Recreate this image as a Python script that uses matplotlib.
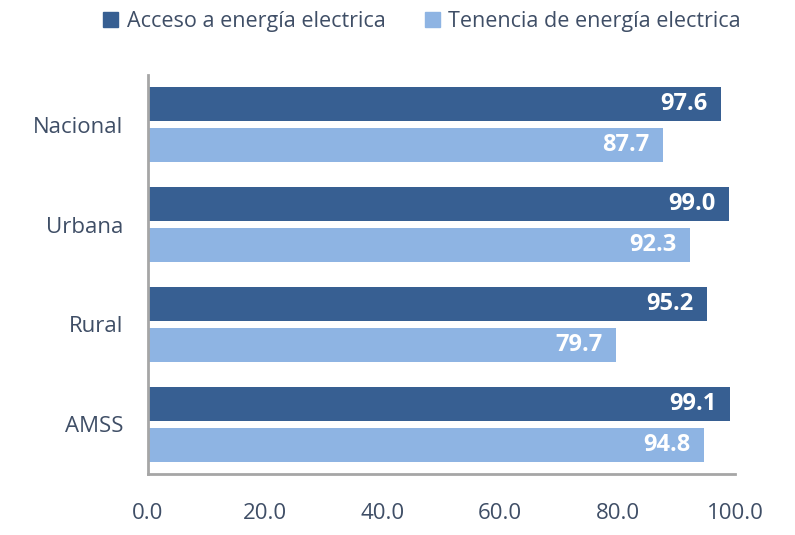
import numpy as np
import matplotlib.pyplot as plt
from matplotlib.patches import Patch

categories = ['Nacional', 'Urbana', 'Rural', 'AMSS']
acceso = [97.6, 99.0, 95.2, 99.1]
tenencia = [87.7, 92.3, 79.7, 94.8]
series_names = ['Acceso a energía electrica', 'Tenencia de energía electrica']
xticks = [0, 20, 40, 60, 80, 100]

dark = '#375F92'
light = '#8EB4E3'
txt = '#3F4E66'

plt.rcParams['font.family'] = ['Open Sans', 'DejaVu Sans']

fig = plt.figure(figsize=(7.95, 5.35), dpi=100)
ax = fig.add_axes([0.1862, 0.114, 0.7383, 0.746])

y = np.arange(len(categories))
h = 0.34
off = 0.205
b1 = ax.barh(y - off, acceso, height=h, color=dark)
b2 = ax.barh(y + off, tenencia, height=h, color=light)

for bars in (b1, b2):
    for b in bars:
        w = b.get_width()
        ax.text(w - 2.3, b.get_y() + b.get_height() / 2, f'{w:.1f}',
                ha='right', va='center', color='white', fontsize=17,
                fontweight='bold')

ax.set_ylim(len(categories) - 0.5, -0.5)
ax.set_xlim(0, 100)
ax.set_yticks(y)
ax.set_yticklabels(categories)
ax.set_xticks(xticks)
ax.set_xticklabels([f'{v:.1f}' for v in xticks])
ax.tick_params(axis='both', length=0, labelsize=16, colors=txt)
ax.tick_params(axis='x', pad=21)
ax.tick_params(axis='y', pad=18)

for s in ('top', 'right'):
    ax.spines[s].set_visible(False)
for s in ('left', 'bottom'):
    ax.spines[s].set_color('#A6A6A6')
    ax.spines[s].set_linewidth(2)

handles = [Patch(color=dark), Patch(color=light)]
fig.legend(handles, series_names, loc='center', bbox_to_anchor=(0.531, 0.96),
           ncol=2, frameon=False, fontsize=15.5, labelcolor=txt,
           handlelength=0.7, handleheight=0.7, handletextpad=0.4,
           columnspacing=1.8)

fig.savefig('out.png')
